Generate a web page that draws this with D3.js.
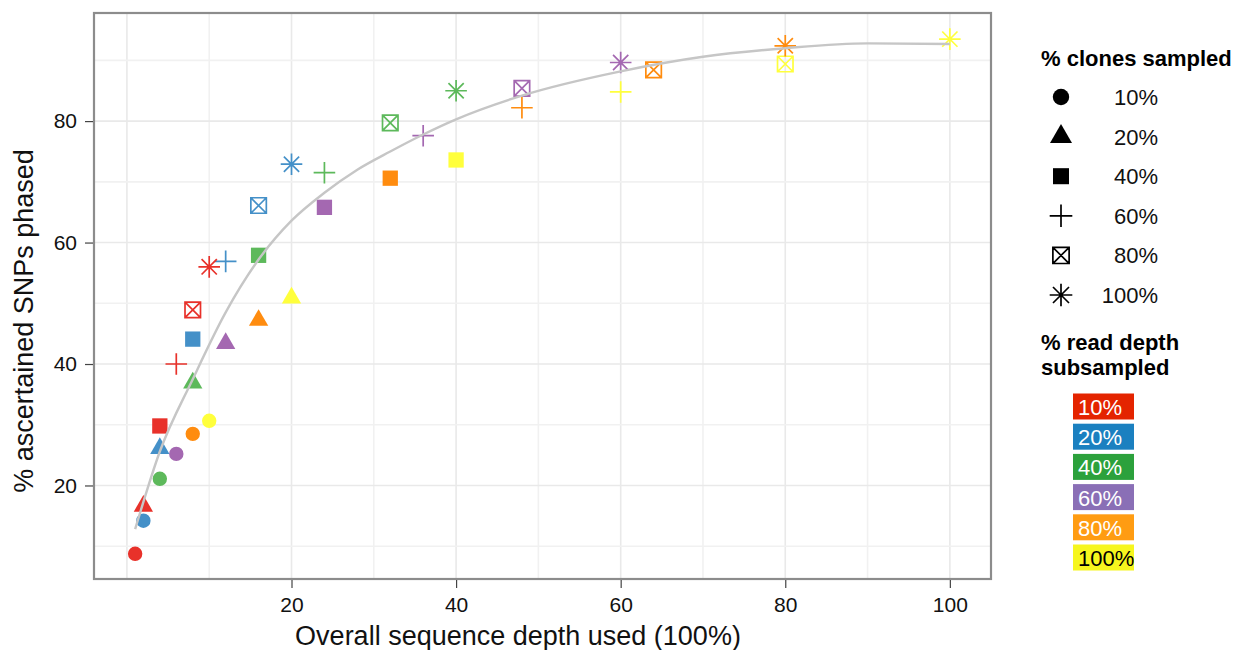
<!DOCTYPE html>
<html>
<head>
<meta charset="utf-8">
<script src="https://cdn.jsdelivr.net/npm/d3@7"></script>
<style>
  body { margin: 0; background: #fff; }
  svg { font-family: "Liberation Sans", Arial, Helvetica, sans-serif; }
</style>
</head>
<body>
<div id="chart"></div>
<script>
// % clones sampled -> one shape each, % read depth -> one colour each
const cloneLevels = ["10%", "20%", "40%", "60%", "80%", "100%"];
const readLevels = ["10%", "20%", "40%", "60%", "80%", "100%"];

// overall sequence depth used (x), one row per clone level, columns follow readLevels
const depthUsed = [
  [1, 2, 4, 6, 8, 10],
  [2, 4, 8, 12, 16, 20],
  [4, 8, 16, 24, 32, 40],
  [6, 12, 24, 36, 48, 60],
  [8, 16, 32, 48, 64, 80],
  [10, 20, 40, 60, 80, 100]
];

// % ascertained SNPs phased (y), same layout
const snpsPhased = [
  [8.75, 14.2, 21.1, 25.2, 28.5, 30.65],
  [16.6, 26.1, 36.9, 43.4, 47.2, 50.9],
  [29.8, 44.1, 57.9, 65.8, 70.6, 73.6],
  [40.0, 56.9, 71.5, 77.6, 82.2, 84.8],
  [48.9, 66.1, 79.7, 85.4, 88.45, 89.4],
  [56.0, 72.9, 85.0, 89.65, 92.4, 93.5]
];

// smooth fit
const fitDepth = [1, 4, 8, 12, 16, 20, 24, 28, 32, 36, 40, 48, 60, 70, 80, 90, 100];
const fitPhased = [12.8, 25.6, 37.5, 48.5, 57.2, 63.6, 68.2, 72.0, 75.0, 77.8, 80.3, 84.2, 88.2, 90.6, 92.0, 92.8, 92.7];

const xTicks = [20, 40, 60, 80, 100];
const yTicks = [20, 40, 60, 80];
const xGrid = [0, 10, 20, 30, 40, 50, 60, 70, 80, 90, 100];
const yGrid = [10, 20, 30, 40, 50, 60, 70, 80, 90];

const pointColors = ["#e8312a", "#4490c8", "#5db95b", "#a468b1", "#ff8c0f", "#ffff3c"];
const legendColors = ["#e42400", "#1b80c0", "#2ca13c", "#8a6fb6", "#ff9c12", "#f6f61e"];

const width = 1235, height = 650;
const panel = { left: 94, top: 13, right: 991, bottom: 579 };

const x = d3.scaleLinear().domain([-4, 105]).range([panel.left, panel.right]);
const y = d3.scaleLinear().domain([4.6, 97.8]).range([panel.bottom, panel.top]);

const svg = d3.select("#chart")
  .append("svg")
  .attr("width", width)
  .attr("height", height);

// grid
svg.append("g")
  .selectAll("line")
  .data(xGrid)
  .enter()
  .append("line")
  .attr("x1", d => x(d)).attr("x2", d => x(d))
  .attr("y1", panel.top).attr("y2", panel.bottom)
  .attr("stroke", d => d % 20 === 0 ? "#e9e9e9" : "#f1f1f1")
  .attr("stroke-width", 1.6);

svg.append("g")
  .selectAll("line")
  .data(yGrid)
  .enter()
  .append("line")
  .attr("y1", d => y(d)).attr("y2", d => y(d))
  .attr("x1", panel.left).attr("x2", panel.right)
  .attr("stroke", d => d % 20 === 0 ? "#e9e9e9" : "#f1f1f1")
  .attr("stroke-width", 1.6);

// marker shapes, one per clone level
const plusSym = { draw(ctx, size) {
  const r = Math.sqrt(size) / 2;
  ctx.moveTo(-r, 0); ctx.lineTo(r, 0);
  ctx.moveTo(0, -r); ctx.lineTo(0, r);
}};
const boxCrossSym = { draw(ctx, size) {
  const r = Math.sqrt(size) / 2;
  ctx.rect(-r, -r, 2 * r, 2 * r);
  ctx.moveTo(-r, -r); ctx.lineTo(r, r);
  ctx.moveTo(-r, r); ctx.lineTo(r, -r);
}};
const asteriskSym = { draw(ctx, size) {
  const r = Math.sqrt(size) / 2, d = r * Math.SQRT1_2;
  ctx.moveTo(-r, 0); ctx.lineTo(r, 0);
  ctx.moveTo(0, -r); ctx.lineTo(0, r);
  ctx.moveTo(-d, -d); ctx.lineTo(d, d);
  ctx.moveTo(-d, d); ctx.lineTo(d, -d);
}};

const shapes = [
  { type: d3.symbolCircle, size: 163, filled: true },
  { type: d3.symbolTriangle, size: 161, filled: true },
  { type: d3.symbolSquare, size: 234, filled: true },
  { type: plusSym, size: 466, filled: false },
  { type: boxCrossSym, size: 240, filled: false },
  { type: asteriskSym, size: 466, filled: false }
];

function markerPath(i, scale) {
  return d3.symbol().type(shapes[i].type).size(shapes[i].size * (scale || 1))();
}

const points = [];
cloneLevels.forEach((c, ci) => {
  readLevels.forEach((r, ri) => {
    points.push({ clone: ci, read: ri, depth: depthUsed[ci][ri], phased: snpsPhased[ci][ri] });
  });
});

svg.append("g")
  .selectAll("path")
  .data(points)
  .enter()
  .append("path")
  .attr("transform", d => `translate(${x(d.depth)},${y(d.phased)})`)
  .attr("d", d => markerPath(d.clone))
  .attr("fill", d => shapes[d.clone].filled ? pointColors[d.read] : "none")
  .attr("stroke", d => shapes[d.clone].filled ? "none" : pointColors[d.read])
  .attr("stroke-width", 1.7);

// fitted curve
const fit = fitDepth.map((d, i) => [d, fitPhased[i]]);
svg.append("path")
  .datum(fit)
  .attr("fill", "none")
  .attr("stroke", "#c6c6c6")
  .attr("stroke-width", 2.4)
  .attr("d", d3.line().x(d => x(d[0])).y(d => y(d[1])).curve(d3.curveMonotoneX));

// panel border
svg.append("rect")
  .attr("x", panel.left).attr("y", panel.top)
  .attr("width", panel.right - panel.left)
  .attr("height", panel.bottom - panel.top)
  .attr("fill", "none")
  .attr("stroke", "#8c8c8c")
  .attr("stroke-width", 2.2);

// axes
const xAxis = d3.axisBottom(x).tickValues(xTicks).tickSize(8).tickPadding(9);
const yAxis = d3.axisLeft(y).tickValues(yTicks).tickSize(8).tickPadding(8);

const gx = svg.append("g")
  .attr("transform", `translate(0,${panel.bottom + 1})`)
  .call(xAxis);
const gy = svg.append("g")
  .attr("transform", `translate(${panel.left - 1},0)`)
  .call(yAxis);

[gx, gy].forEach(g => {
  g.select(".domain").remove();
  g.selectAll(".tick line").attr("stroke", "#444").attr("stroke-width", 1.2);
  g.selectAll(".tick text")
    .attr("fill", "#111")
    .style("font-size", "21px")
    .style("font-family", "\"Liberation Sans\", Arial, sans-serif");
});

svg.append("text")
  .attr("x", 518).attr("y", 645)
  .attr("text-anchor", "middle")
  .style("font-size", "27px")
  .attr("fill", "#111")
  .text("Overall sequence depth used (100%)");

svg.append("text")
  .attr("transform", "translate(33,321) rotate(-90)")
  .attr("text-anchor", "middle")
  .style("font-size", "27px")
  .attr("fill", "#111")
  .text("% ascertained SNPs phased");

// legend: clones (shapes)
const leg1 = svg.append("g");
leg1.append("text")
  .attr("x", 1041).attr("y", 66)
  .style("font-size", "22px").style("font-weight", "bold")
  .text("% clones sampled");

const rows1 = leg1.selectAll("g")
  .data(cloneLevels)
  .enter()
  .append("g")
  .attr("transform", (d, i) => `translate(0,${97 + i * 39.6})`);

rows1.append("path")
  .attr("transform", "translate(1061,0)")
  .attr("d", (d, i) => markerPath(i, i < 2 ? 1.3 : 1.1))
  .attr("fill", (d, i) => shapes[i].filled ? "#000" : "none")
  .attr("stroke", (d, i) => shapes[i].filled ? "none" : "#000")
  .attr("stroke-width", 1.7);

rows1.append("text")
  .attr("x", 1158).attr("dy", "0.36em")
  .attr("text-anchor", "end")
  .style("font-size", "22px")
  .attr("fill", "#111")
  .text(d => d);

// legend: read depth (colours)
const leg2 = svg.append("g");
leg2.append("text")
  .attr("x", 1041).attr("y", 350)
  .style("font-size", "22px").style("font-weight", "bold")
  .text("% read depth");
leg2.append("text")
  .attr("x", 1041).attr("y", 375)
  .style("font-size", "22px").style("font-weight", "bold")
  .text("subsampled");

const rows2 = leg2.selectAll("g")
  .data(readLevels)
  .enter()
  .append("g")
  .attr("transform", (d, i) => `translate(1073,${393.5 + i * 30.2})`);

rows2.append("rect")
  .attr("width", 61).attr("height", 26)
  .attr("fill", (d, i) => legendColors[i]);

rows2.append("text")
  .attr("x", 5).attr("y", 21.5)
  .style("font-size", "22px")
  .attr("fill", (d, i) => i === readLevels.length - 1 ? "#000" : "#fff")
  .text(d => d);
</script>
</body>
</html>
